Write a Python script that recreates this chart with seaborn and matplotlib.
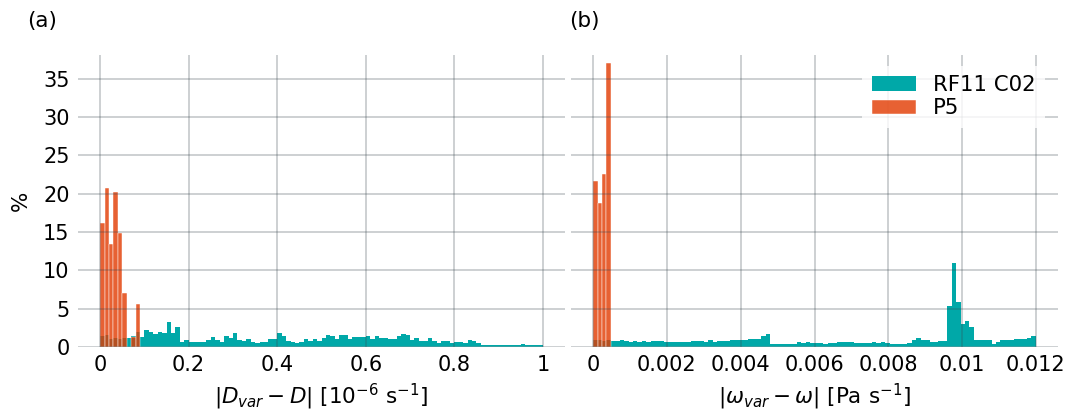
import numpy as np
import matplotlib
matplotlib.use("Agg")
import matplotlib.pyplot as plt
import seaborn as sns

# ---------------- data (percent per bin) ----------------
# panel (a): |D_var - D| in 1e-6 s^-1, 100 bins over [0, 1]
a_range = (0.0, 1.0)
a_teal = [1.5, 1.6, 1.1, 1.2, 1.0, 1.2, 1.2, 1.4, 1.9,
          1.35, 2.2, 2.0, 1.65, 1.95, 1.85, 3.2, 1.85, 2.65, 0.7, 0.9,
          0.7, 0.7, 0.7, 0.7, 0.9, 1.35, 0.9, 0.7, 1.45, 1.2, 1.85,
          0.9, 0.75, 1.0, 0.7, 0.55, 0.7, 0.6,
          1.0, 1.0, 1.85, 1.5, 0.75, 0.6, 0.5, 0.65, 1.0, 0.75,
          1.0, 0.75, 1.15, 1.55, 1.45, 1.0, 1.55, 1.55, 1.0, 1.3,
          1.3, 1.3, 1.5, 1.0, 1.45, 1.15, 1.15, 1.05, 1.05, 1.45,
          1.7, 1.55, 0.85, 1.15, 0.75, 0.75, 1.15, 0.75, 0.5, 0.75,
          0.75, 0.5, 0.65, 0.65, 0.5, 0.9, 0.75, 0.5, 0.25,
          0.25, 0.3, 0.25, 0.25, 0.3, 0.25, 0.3, 0.25, 0.4, 0.3, 0.25, 0.3, 0.3]
a_orange = [16.2, 20.7, 13.5, 20.2, 14.9, 7.0, 0.0, 1.3, 5.6]

# panel (b): |omega_var - omega| in Pa s^-1, 100 bins over [0, 0.012]
b_range = (0.0, 0.012)
b_teal = [0.85, 0.85, 0.8, 0.85,
          0.75, 0.8, 0.9, 0.75, 0.7, 0.75, 0.7, 0.75, 0.7, 0.75, 0.75,
          0.8, 0.65, 0.6, 0.6, 0.65, 0.65, 0.65, 0.75, 0.75, 0.75, 0.65, 0.9,
          0.7, 0.75, 0.75, 0.75, 0.85, 0.85, 0.85, 0.9, 1.0, 1.0, 1.1, 1.45,
          1.75, 0.4, 0.35,
          0.45, 0.45, 0.45, 0.45, 0.6, 0.5, 0.6, 0.5, 0.5, 0.5, 0.45, 0.5,
          0.55, 0.6, 0.6, 0.6, 0.6, 0.5, 0.5, 0.55, 0.5, 0.6, 0.5, 0.6, 0.5,
          0.4, 0.4, 0.4, 0.35, 0.55,
          0.85, 1.15, 0.9, 0.9, 0.7, 0.7, 0.8, 0.8,
          5.35, 10.9, 5.85, 3.0, 3.45, 2.65,
          0.85, 0.85, 0.85, 0.85, 0.45, 0.7, 0.85, 0.85, 0.85, 1.0, 1.0, 1.0,
          1.15, 1.4]
b_orange = [21.7, 18.8, 22.6, 37.0]

series_names = ["RF11 C02", "P5"]
a_ticks = [0, 0.2, 0.4, 0.6, 0.8, 1.0]
a_ticklabels = ["0", "0.2", "0.4", "0.6", "0.8", "1"]
b_ticks = [0, 0.002, 0.004, 0.006, 0.008, 0.010, 0.012]
b_ticklabels = ["0", "0.002", "0.004", "0.006", "0.008", "0.01", "0.012"]
y_ticks = [0, 5, 10, 15, 20, 25, 30, 35]

TEAL = "#00A8A8"
ORANGE = "#E23A00"

sns.set_style("white")
plt.rcParams['font.family'] = ['DejaVu Sans']
for k in ["text.color", "axes.labelcolor", "xtick.color", "ytick.color"]:
    plt.rcParams[k] = "black"

W, H = 1071, 415
fig = plt.figure(figsize=(W / 100, H / 100), dpi=100)
axa = fig.add_axes([78 / W, 68 / H, 487 / W, 292 / H])
axb = fig.add_axes([571 / W, 68 / H, 487 / W, 292 / H], sharey=axa)


def draw(ax, rng, teal, orange):
    edges = np.linspace(rng[0], rng[1], len(teal) + 1)
    centers = 0.5 * (edges[:-1] + edges[1:])
    bins = edges.tolist()
    sns.histplot(x=centers, weights=np.asarray(teal), bins=bins, ax=ax,
                 color=TEAL, alpha=1.0, linewidth=0, label=series_names[0])
    n = len(orange)
    sns.histplot(x=centers[:n], weights=np.asarray(orange), bins=bins, ax=ax,
                 color=ORANGE, alpha=0.8, label=series_names[1])
    ax.grid(True, color="#3A4850", alpha=0.27, lw=1.3)
    ax.set_axisbelow(False)
    sns.despine(ax=ax, left=True, bottom=True)
    ax.tick_params(length=0, labelsize=15, pad=6)
    ax.set_ylabel("")


draw(axa, a_range, a_teal, a_orange)
draw(axb, b_range, b_teal, b_orange)

axa.set_xlim(-0.05, 1.05)
axa.set_xticks(a_ticks)
axa.set_xticklabels(a_ticklabels)
axb.set_xlim(-0.0006, 0.0126)
axb.set_xticks(b_ticks)
axb.set_xticklabels(b_ticklabels)
axa.set_ylim(0, 38.1)
axa.set_yticks(y_ticks)
axb.tick_params(labelleft=False)

axa.set_ylabel("%", fontsize=15.5, labelpad=9)
axa.set_xlabel(r"$|D_{var} - D|$ [$10^{-6}$ s$^{-1}$]", fontsize=15.5, labelpad=5)
axb.set_xlabel(r"$|\omega_{var} - \omega|$ [Pa s$^{-1}$]", fontsize=15.5, labelpad=5)

leg = axb.legend(loc="upper right", fontsize=15.3, labelspacing=0.15,
                 borderpad=0.45, handlelength=2.1, frameon=True,
                 bbox_to_anchor=(0.996, 1.0))
leg.get_frame().set_edgecolor("none")
leg.get_frame().set_facecolor("white")

fig.text(27 / W, 1 - 21 / H, "(a)", fontsize=15.5, va="center", ha="left")
fig.text(569 / W, 1 - 21 / H, "(b)", fontsize=15.5, va="center", ha="left")

fig.savefig("out.png", dpi=100)
